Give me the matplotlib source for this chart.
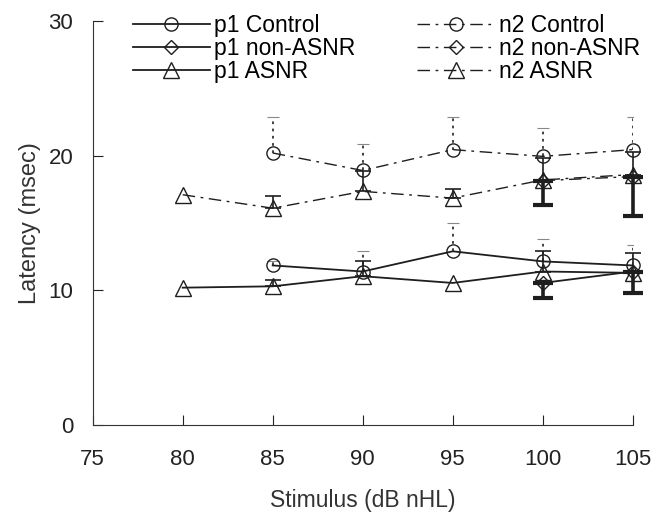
import numpy as np
import matplotlib
matplotlib.use("Agg")
import matplotlib.pyplot as plt

plt.rcParams['font.family'] = ['Liberation Sans', 'DejaVu Sans']

# stimulus levels (dB nHL)
x_ctrl = [85, 90, 95, 100, 105]
x_asnr = [80, 85, 90, 95, 100, 105]
x_non = [100, 105]

# p1 latencies (msec) and error bar lengths
p1_ctrl = [11.85, 11.4, 12.9, 12.15, 11.85]
p1_ctrl_err = [0.3, 1.55, 2.1, 1.65, 1.55]
p1_asnr = [10.2, 10.3, 11.05, 10.55, 11.4, 11.3]
p1_asnr_err = [0.0, 0.5, 1.1, 0.0, 1.5, 1.5]
p1_non = [10.55, 11.4]
p1_non_err = [1.1, 1.6]

# n2 latencies (msec) and error bar lengths
n2_ctrl = [20.2, 18.9, 20.45, 19.95, 20.45]
n2_ctrl_err = [2.7, 2.0, 2.45, 2.1, 2.45]
n2_asnr = [17.1, 16.1, 17.35, 16.85, 18.2, 18.6]
n2_asnr_err = [0.0, 0.9, 1.5, 0.65, 1.6, 1.7]
n2_non = [18.15, 18.45]
n2_non_err = [1.8, 2.9]

ink = '#1e1e1e'
fig = plt.figure(figsize=(6.65, 5.15), dpi=100)
ax = fig.add_axes([0.1394, 0.1747, 0.812, 0.7845])

dashdot = (0, (9, 4, 2, 4))
mk = dict(markerfacecolor='none', markeredgecolor=ink, markeredgewidth=1.0,
          color=ink, clip_on=False)

# control error bars: dotted, upward only, faint caps
for ys, es in [(p1_ctrl, p1_ctrl_err), (n2_ctrl, n2_ctrl_err)]:
    eb = ax.errorbar(x_ctrl, ys, yerr=[np.zeros(len(es)), es], fmt='none',
                     ecolor='#333333', elinewidth=1.3, capsize=4, capthick=0.8)
    eb[2][0].set_linestyle((0, (1.5, 2.5)))
    eb[1][0].set_visible(False)
    eb[1][1].set_markeredgecolor('#888888')

# ASNR error bars: thin, upward, with caps
for ys, es in [(p1_asnr, p1_asnr_err), (n2_asnr, n2_asnr_err)]:
    e = np.array(es)
    sel = e > 0
    ax.errorbar(np.array(x_asnr)[sel], np.array(ys)[sel],
                yerr=[np.zeros(sel.sum()), e[sel]], fmt='none',
                ecolor=ink, elinewidth=1.2, capsize=6, capthick=1.2, clip_on=False)

# non-ASNR error bars: thick, downward
for ys, es in [(p1_non, p1_non_err), (n2_non, n2_non_err)]:
    ax.errorbar(x_non, ys, yerr=[es, np.zeros(len(es))], fmt='none',
                ecolor=ink, elinewidth=2.6, capsize=7, capthick=3, clip_on=False)

ax.plot(x_ctrl, p1_ctrl, '-', marker='o', ms=9.5, lw=1.3, label='p1 Control', **mk)
ax.plot(x_non, p1_non, '-', marker='D', ms=7.5, lw=1.3, label='p1 non-ASNR', **mk)
ax.plot(x_asnr, p1_asnr, '-', marker='^', ms=11, lw=1.3, label='p1 ASNR', **mk)
ax.plot(x_ctrl, n2_ctrl, linestyle=dashdot, marker='o', ms=9.5, lw=1.0,
        label='n2 Control', **mk)
ax.plot(x_non, n2_non, linestyle=dashdot, marker='D', ms=7.5, lw=1.0,
        label='n2 non-ASNR', **mk)
ax.plot(x_asnr, n2_asnr, linestyle=dashdot, marker='^', ms=11, lw=1.0,
        label='n2 ASNR', **mk)

ax.set_xlim(75, 105)
ax.set_ylim(0, 30)
ax.set_xticks([75, 80, 85, 90, 95, 100, 105])
ax.set_yticks([0, 10, 20, 30])
ax.spines['top'].set_visible(False)
ax.spines['right'].set_visible(False)
for s in ['left', 'bottom']:
    ax.spines[s].set_color('#333333')
ax.tick_params(direction='in', length=7, labelsize=16, colors='#222222')
ax.tick_params(axis='x', pad=17)
ax.tick_params(axis='y', pad=14)
ax.set_xlabel('Stimulus (dB nHL)', fontsize=16.5, color='#333333', labelpad=14)
ax.set_ylabel('Latency (msec)', fontsize=17, color='#333333', labelpad=5)

ax.legend(loc='upper left', bbox_to_anchor=(133 / 665, 1 - 14 / 515),
          bbox_transform=fig.transFigure, ncol=2, frameon=False,
          fontsize=16.5, handlelength=3.35, columnspacing=2.7, labelspacing=0.0,
          handletextpad=0.2, borderpad=0, borderaxespad=0)

fig.savefig('out.png', dpi=100)
